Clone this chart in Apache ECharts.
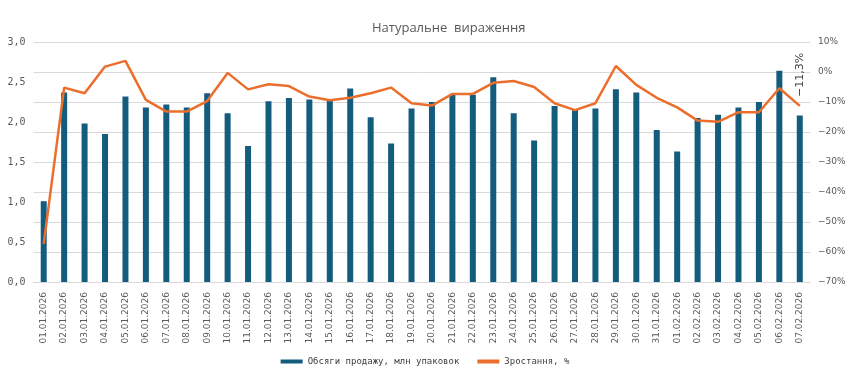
<!DOCTYPE html>
<html>
<head>
<meta charset="utf-8">
<script src="https://cdn.jsdelivr.net/npm/echarts@6/dist/echarts.min.js"></script>
<style>html,body{margin:0;padding:0;background:#fff}#c{width:850px;height:379px}</style>
</head>
<body>
<div id="c"></div>
<script>
const titleText = 'Натуральне  вираження';
const barName = 'Обсяги продажу, млн упаковок';
const lineName = 'Зростання, %';
const categories = ['01.01.2026','02.01.2026','03.01.2026','04.01.2026','05.01.2026','06.01.2026','07.01.2026','08.01.2026','09.01.2026','10.01.2026','11.01.2026','12.01.2026','13.01.2026','14.01.2026','15.01.2026','16.01.2026','17.01.2026','18.01.2026','19.01.2026','20.01.2026','21.01.2026','22.01.2026','23.01.2026','24.01.2026','25.01.2026','26.01.2026','27.01.2026','28.01.2026','29.01.2026','30.01.2026','31.01.2026','01.02.2026','02.02.2026','03.02.2026','04.02.2026','05.02.2026','06.02.2026','07.02.2026'];
const salesValues = [1.01,2.37,1.98,1.85,2.32,2.18,2.22,2.18,2.36,2.11,1.70,2.26,2.30,2.28,2.27,2.42,2.06,1.73,2.17,2.25,2.34,2.34,2.56,2.11,1.77,2.20,2.15,2.17,2.41,2.37,1.90,1.63,2.05,2.09,2.18,2.25,2.64,2.08];
const growthValues = [-57.3,-5.2,-7.1,1.8,3.7,-9.3,-13.2,-13.2,-9.7,-0.3,-5.8,-4.1,-4.7,-8.2,-9.4,-8.6,-7.1,-5.2,-10.4,-11.2,-7.3,-7.3,-3.6,-3.0,-5.0,-10.4,-12.7,-10.4,2.0,-4.3,-8.6,-11.8,-16.2,-16.6,-13.4,-13.4,-5.4,-11.3];
const leftTicks = {min:0, max:3, interval:0.5};
const rightTicks = {min:-70, max:10, interval:10};

const fmtNum = v => v.toFixed(1).replace('.', ',');
const fmtPct = v => (v < 0 ? '\u2212' + Math.abs(v) : String(v)) + '%';

const lastIdx = growthValues.length - 1;
const lineData = growthValues.map((v, i) => {
  if (i === lastIdx) {
    return {
      value: v,
      label: {
        show: true, position: 'top', rotate: 90, distance: 9,
        align: 'left', verticalAlign: 'middle',
        formatter: p => '\u2212' + Math.abs(p.value).toFixed(1).replace('.', ',') + '%',
        color: '#404040', fontSize: 11, fontFamily: 'DejaVu Sans'
      }
    };
  }
  return v;
});

const chart = echarts.init(document.getElementById('c'));
chart.setOption({
  animation: false,
  backgroundColor: '#ffffff',
  title: {
    text: titleText, left: 367, top: 17,
    textStyle: {fontFamily: 'Open Sans', fontSize: 13, fontWeight: 'normal', color: '#595959'}
  },
  legend: {
    bottom: 8, left: 'center',
    itemWidth: 22, itemHeight: 4, itemGap: 18,
    textStyle: {fontFamily: 'DejaVu Sans Mono', fontSize: 9, color: '#404040'},
    data: [{name: barName, icon: 'rect'}, {name: lineName, icon: 'rect'}]
  },
  grid: {left: 33.5, right: 40, top: 42, bottom: 97, containLabel: false},
  xAxis: {
    type: 'category', data: categories,
    axisLine: {lineStyle: {color: '#d9d9d9'}},
    axisTick: {show: false},
    axisLabel: {rotate: 90, interval: 0, margin: 10, fontFamily: 'DejaVu Sans', fontSize: 9, color: '#595959'}
  },
  yAxis: [
    {
      type: 'value', min: leftTicks.min, max: leftTicks.max, interval: leftTicks.interval,
      splitLine: {show: false}, axisLine: {show: false}, axisTick: {show: false},
      axisLabel: {formatter: fmtNum, fontFamily: 'DejaVu Sans Mono', fontSize: 10, color: '#595959', margin: 8}
    },
    {
      type: 'value', min: rightTicks.min, max: rightTicks.max, interval: rightTicks.interval,
      splitLine: {show: true, lineStyle: {color: '#d9d9d9', width: 1}},
      axisLine: {show: false}, axisTick: {show: false},
      axisLabel: {formatter: fmtPct, fontFamily: 'DejaVu Sans', fontSize: 9, color: '#595959', margin: 8}
    }
  ],
  series: [
    {
      name: barName, type: 'bar', yAxisIndex: 0, data: salesValues,
      barWidth: 6, itemStyle: {color: '#145c7e'}
    },
    {
      name: lineName, type: 'line', yAxisIndex: 1, data: lineData,
      showSymbol: true, showAllSymbol: true, symbol: 'circle', symbolSize: 0, smooth: false,
      lineStyle: {color: '#ec6e2d', width: 2.5}, itemStyle: {color: '#ec6e2d'},
      z: 3
    }
  ]
});
</script>
</body>
</html>
